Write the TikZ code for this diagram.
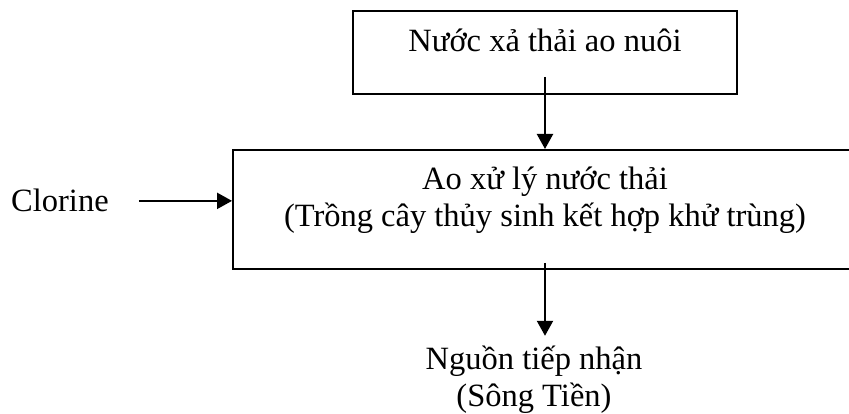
\documentclass[tikz,border=0pt]{standalone}
\usepackage{fontspec}
\setmainfont{Liberation Serif}
\usetikzlibrary{arrows.meta,positioning}

\begin{document}
\begin{tikzpicture}[
  x=1pt, y=1pt,
  txt/.style={
    font=\fontsize{32.5}{37}\selectfont, text=black,
    align=center, inner sep=0pt
  },
  box/.style={
    txt, rectangle, draw=black, line width=2pt, fill=white
  },
  arr/.style={-{Triangle[length=15pt,width=16pt]}, line width=2.2pt, black}
]
\useasboundingbox (0,0) rectangle (849,414);
\node[box, minimum width=624pt, minimum height=119pt,
      text height=60pt, text depth=25pt] (pond) at (545,204.5)
      {Ao xử lý nước thải\\(Trồng cây thủy sinh kết hợp khử trùng)};
\node[box, above=54pt of pond, minimum width=384pt, minimum height=83pt,
      text height=24pt, text depth=26pt] (inflow) {Nước xả thải ao nuôi};
\node[txt, anchor=base west] (chem) at (11,202) {Clorine};
\node[txt, anchor=base, text height=71pt] (river) at (534,7)
      {Nguồn tiếp nhận\\(Sông Tiền)};
\draw[arr] ([yshift=18pt]inflow.south) -- (inflow.south |- pond.north);
\draw[arr] ([xshift=30pt]chem.east) -- (chem.east -| pond.west);
\draw[arr] ([yshift=7pt]pond.south) -- (pond.south |- river.north);
\end{tikzpicture}
\end{document}
